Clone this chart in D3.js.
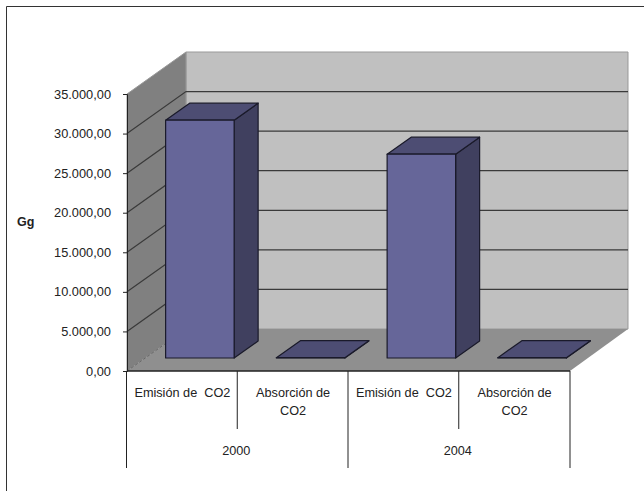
<!DOCTYPE html>
<html>
<head>
<meta charset="utf-8">
<script src="https://cdn.jsdelivr.net/npm/d3@7"></script>
<style>
    html, body { margin: 0; padding: 0; background: #fff; }
    svg { display: block; }
    text { font-family: "Liberation Sans", Arial, sans-serif; fill: #222; white-space: pre; }
</style>
</head>
<body>
<svg id="chart" width="644" height="491"></svg>
<script>
const years = ["2000", "2004"];
const categories = ["Emisión de  CO2", "Absorción de CO2"];
const emision = [30050, 25750];
const absorcion = [40, 40];
const yTicks = [0, 5000, 10000, 15000, 20000, 25000, 30000, 35000];
const yLabel = "Gg";

const w = 644, h = 491;
const plotLeft = 127, plotRight = 570, plotBottom = 371, plotTop = 94;
// oblique depth of the floor
const depthX = 59, depthY = 42;

const svg = d3.select("#chart");

const y = d3.scaleLinear().domain([0, 35000]).range([plotBottom, plotTop]);
const xYear = d3.scaleBand().domain(years).range([plotLeft, plotRight]);
const xCat = d3.scaleBand().domain(categories).range([0, xYear.bandwidth()]);

const locale = d3.formatLocale({ decimal: ",", thousands: ".", grouping: [3], currency: ["", ""] });
const fmt = locale.format(",.2f");

const poly = pts => pts.map(p => p.join(",")).join(" ");

// --- Outer frame ---
svg.append("path")
    .attr("d", `M6.5,${h} V6.5 H${w}`)
    .attr("fill", "none")
    .attr("stroke", "#333")
    .attr("stroke-width", 1);

// --- Walls and floor ---
const floorY = plotBottom - depthY;
const topBack = plotTop - depthY;

svg.append("polygon")
    .attr("points", poly([[plotLeft + depthX, topBack], [plotRight + depthX - 1, topBack], [plotRight + depthX - 1, floorY], [plotLeft + depthX, floorY]]))
    .attr("fill", "#c0c0c0")
    .attr("stroke", "#999");

svg.append("polygon")
    .attr("points", poly([[plotLeft, plotTop], [plotLeft + depthX, topBack], [plotLeft + depthX, floorY], [plotLeft, plotBottom]]))
    .attr("fill", "#808080")
    .attr("stroke", "#999");

svg.append("polygon")
    .attr("points", poly([[plotLeft, plotBottom], [plotLeft + depthX, floorY], [plotRight + depthX - 1, floorY], [plotRight, plotBottom]]))
    .attr("fill", "#8f8f8f");

// --- Gridlines ---
const grid = svg.append("g").attr("fill", "none").attr("stroke", "#3a3a3a").attr("stroke-width", 1.2);
yTicks.filter(d => d > 0 && d < 35000).forEach(d => {
    grid.append("polyline")
        .attr("points", poly([[plotLeft, y(d)], [plotLeft + depthX, y(d) - depthY], [plotRight + depthX - 1, y(d) - depthY]]));
});

// floor/wall seam
svg.append("line")
    .attr("x1", plotLeft).attr("y1", plotBottom)
    .attr("x2", plotLeft + depthX).attr("y2", floorY)
    .attr("stroke", "#666")
    .attr("stroke-dasharray", "3,2");

// --- Bars ---
const barW = 68.5, barDX = 24, barDY = 17;
const baseDX = 17.5, baseDY = 13;

const rows = years.flatMap((yr, i) => [
    { year: yr, cat: categories[0], value: emision[i] },
    { year: yr, cat: categories[1], value: absorcion[i] }
]);

const bars = svg.append("g").selectAll("g").data(rows).join("g")
    .attr("stroke", "#1a1a2a")
    .attr("stroke-width", 1.2)
    .attr("stroke-linejoin", "round");

const barX = d => xYear(d.year) + xCat(d.cat) + xCat.bandwidth() / 2 + baseDX - barW / 2;
const barBase = plotBottom - baseDY;
const barTop = d => barBase - (plotBottom - y(d.value));

bars.append("polygon")
    .attr("fill", "#40405f")
    .attr("points", d => poly([
        [barX(d) + barW, barTop(d)],
        [barX(d) + barW + barDX, barTop(d) - barDY],
        [barX(d) + barW + barDX, barBase - barDY],
        [barX(d) + barW, barBase]
    ]));

bars.append("polygon")
    .attr("fill", "#4d4d73")
    .attr("points", d => poly([
        [barX(d), barTop(d)],
        [barX(d) + barDX, barTop(d) - barDY],
        [barX(d) + barW + barDX, barTop(d) - barDY],
        [barX(d) + barW, barTop(d)]
    ]));

bars.append("rect")
    .attr("fill", "#666699")
    .attr("x", barX)
    .attr("y", barTop)
    .attr("width", barW)
    .attr("height", d => barBase - barTop(d));

// --- Y axis ---
const yAxis = d3.axisLeft(y)
    .tickValues(yTicks)
    .tickSize(4)
    .tickPadding(12)
    .tickFormat(fmt);

svg.append("g")
    .attr("transform", `translate(${plotLeft},0)`)
    .call(yAxis)
    .call(g => g.selectAll("text").attr("font-size", 12.8).style("font-family", "Liberation Sans"))
    .call(g => g.selectAll("line").attr("stroke", "#222"))
    .call(g => g.select(".domain").attr("stroke", "#222"));

svg.append("text")
    .attr("x", 17)
    .attr("y", 226)
    .attr("font-size", 12.5)
    .attr("font-weight", "bold")
    .text(yLabel);

// --- X axis, two levels ---
const xAxis = svg.append("g").attr("stroke", "#222").attr("fill", "none");

xAxis.append("line")
    .attr("x1", plotLeft).attr("x2", plotRight)
    .attr("y1", plotBottom).attr("y2", plotBottom)
    .attr("stroke-width", 1.3);

years.forEach(yr => {
    xAxis.append("line")
        .attr("x1", xYear(yr) - 0.5).attr("x2", xYear(yr) - 0.5)
        .attr("y1", plotBottom).attr("y2", 468);
    xAxis.append("line")
        .attr("x1", xYear(yr) + xCat(categories[1]) - 0.5).attr("x2", xYear(yr) + xCat(categories[1]) - 0.5)
        .attr("y1", plotBottom).attr("y2", 429);
});
xAxis.append("line")
    .attr("x1", plotRight).attr("x2", plotRight)
    .attr("y1", plotBottom).attr("y2", 468);

const catLines = { [categories[0]]: ["Emisión de  CO2"], [categories[1]]: ["Absorción de", "CO2"] };

years.forEach(yr => {
    categories.forEach(cat => {
        const t = svg.append("text")
            .attr("text-anchor", "middle")
            .attr("font-size", 12.7)
            .attr("y", 397);
        catLines[cat].forEach((line, i) => {
            t.append("tspan")
                .attr("x", xYear(yr) + xCat(cat) + xCat.bandwidth() / 2)
                .attr("dy", i ? 18 : 0)
                .text(line);
        });
    });
    svg.append("text")
        .attr("text-anchor", "middle")
        .attr("font-size", 12.7)
        .attr("x", xYear(yr) + xYear.bandwidth() / 2 - 1.5)
        .attr("y", 455)
        .text(yr);
});
</script>
</body>
</html>
